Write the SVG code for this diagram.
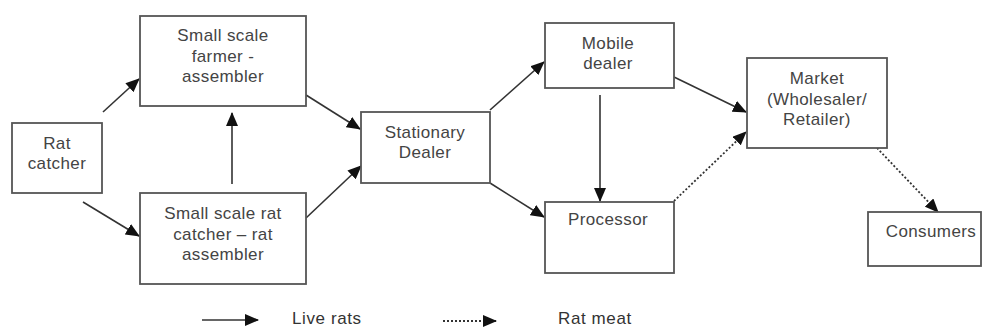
<svg xmlns="http://www.w3.org/2000/svg" width="983" height="329" viewBox="0 0 983 329">
<style>
.box{fill:#fff;stroke:#555;stroke-width:1.8}
.t{font-family:"Liberation Sans",Arial,sans-serif;font-size:17px;fill:#444;text-anchor:middle;letter-spacing:0.4px}
.lg{font-family:"Liberation Sans",Arial,sans-serif;font-size:17px;fill:#333;letter-spacing:0.6px}
.c{stroke:#333;stroke-width:1.6;fill:none}
.d{stroke:#333;stroke-width:1.8;fill:none;stroke-dasharray:2 2}
</style>
<defs>
<marker id="ah" markerUnits="userSpaceOnUse" markerWidth="14" markerHeight="12" viewBox="0 0 14 12" refX="13" refY="6" orient="auto">
<path d="M0,0 L14,6 L0,12 Z" fill="#111"/>
</marker>
</defs>
<rect width="983" height="329" fill="#fff"/>
<g id="connectors">
<line class="c" x1="103" y1="112" x2="139" y2="79" marker-end="url(#ah)"/>
<line class="c" x1="83" y1="202" x2="139" y2="236" marker-end="url(#ah)"/>
<line class="c" x1="232" y1="184" x2="232" y2="113" marker-end="url(#ah)"/>
<line class="c" x1="306" y1="95" x2="360" y2="129" marker-end="url(#ah)"/>
<line class="c" x1="306" y1="218" x2="361" y2="166" marker-end="url(#ah)"/>
<line class="c" x1="490" y1="110" x2="544" y2="62" marker-end="url(#ah)"/>
<line class="c" x1="490" y1="183" x2="544" y2="217" marker-end="url(#ah)"/>
<line class="c" x1="600" y1="95" x2="600" y2="201" marker-end="url(#ah)"/>
<line class="c" x1="674" y1="77" x2="746" y2="112" marker-end="url(#ah)"/>
<line class="d" x1="674" y1="201" x2="746" y2="132" marker-end="url(#ah)"/>
<line class="d" x1="877" y1="148" x2="938" y2="212" marker-end="url(#ah)"/>
<line class="c" x1="202" y1="320" x2="258" y2="320" marker-end="url(#ah)"/>
<line class="d" x1="443" y1="321" x2="496" y2="321" marker-end="url(#ah)"/>
</g>
<g id="rat-catcher">
<rect class="box" x="12" y="123" width="90" height="70"/>
<text class="t" x="57" y="149">Rat</text>
<text class="t" x="57" y="169">catcher</text>
</g>
<g id="farmer-assembler">
<rect class="box" x="140" y="16" width="166" height="90"/>
<text class="t" x="223" y="41">Small scale</text>
<text class="t" x="223" y="62">farmer -</text>
<text class="t" x="223" y="82">assembler</text>
</g>
<g id="rat-assembler">
<rect class="box" x="140" y="193" width="166" height="91"/>
<text class="t" x="223" y="219">Small scale rat</text>
<text class="t" x="223" y="240">catcher – rat</text>
<text class="t" x="223" y="260">assembler</text>
</g>
<g id="stationary-dealer">
<rect class="box" x="361" y="112" width="129" height="71"/>
<text class="t" x="425" y="138">Stationary</text>
<text class="t" x="425" y="158">Dealer</text>
</g>
<g id="mobile-dealer">
<rect class="box" x="545" y="23" width="129" height="65"/>
<text class="t" x="608" y="49">Mobile</text>
<text class="t" x="608" y="69">dealer</text>
</g>
<g id="processor">
<rect class="box" x="545" y="202" width="129" height="71"/>
<text class="t" x="608" y="225">Processor</text>
</g>
<g id="market">
<rect class="box" x="747" y="58" width="140" height="90"/>
<text class="t" x="817" y="84">Market</text>
<text class="t" x="817" y="105">(Wholesaler/</text>
<text class="t" x="817" y="125">Retailer)</text>
</g>
<g id="consumers">
<rect class="box" x="868" y="212" width="113" height="54"/>
<text class="t" x="931" y="237">Consumers</text>
</g>
<g id="legend">
<text class="lg" x="292" y="324">Live rats</text>
<text class="lg" x="558" y="324">Rat meat</text>
</g>
</svg>
